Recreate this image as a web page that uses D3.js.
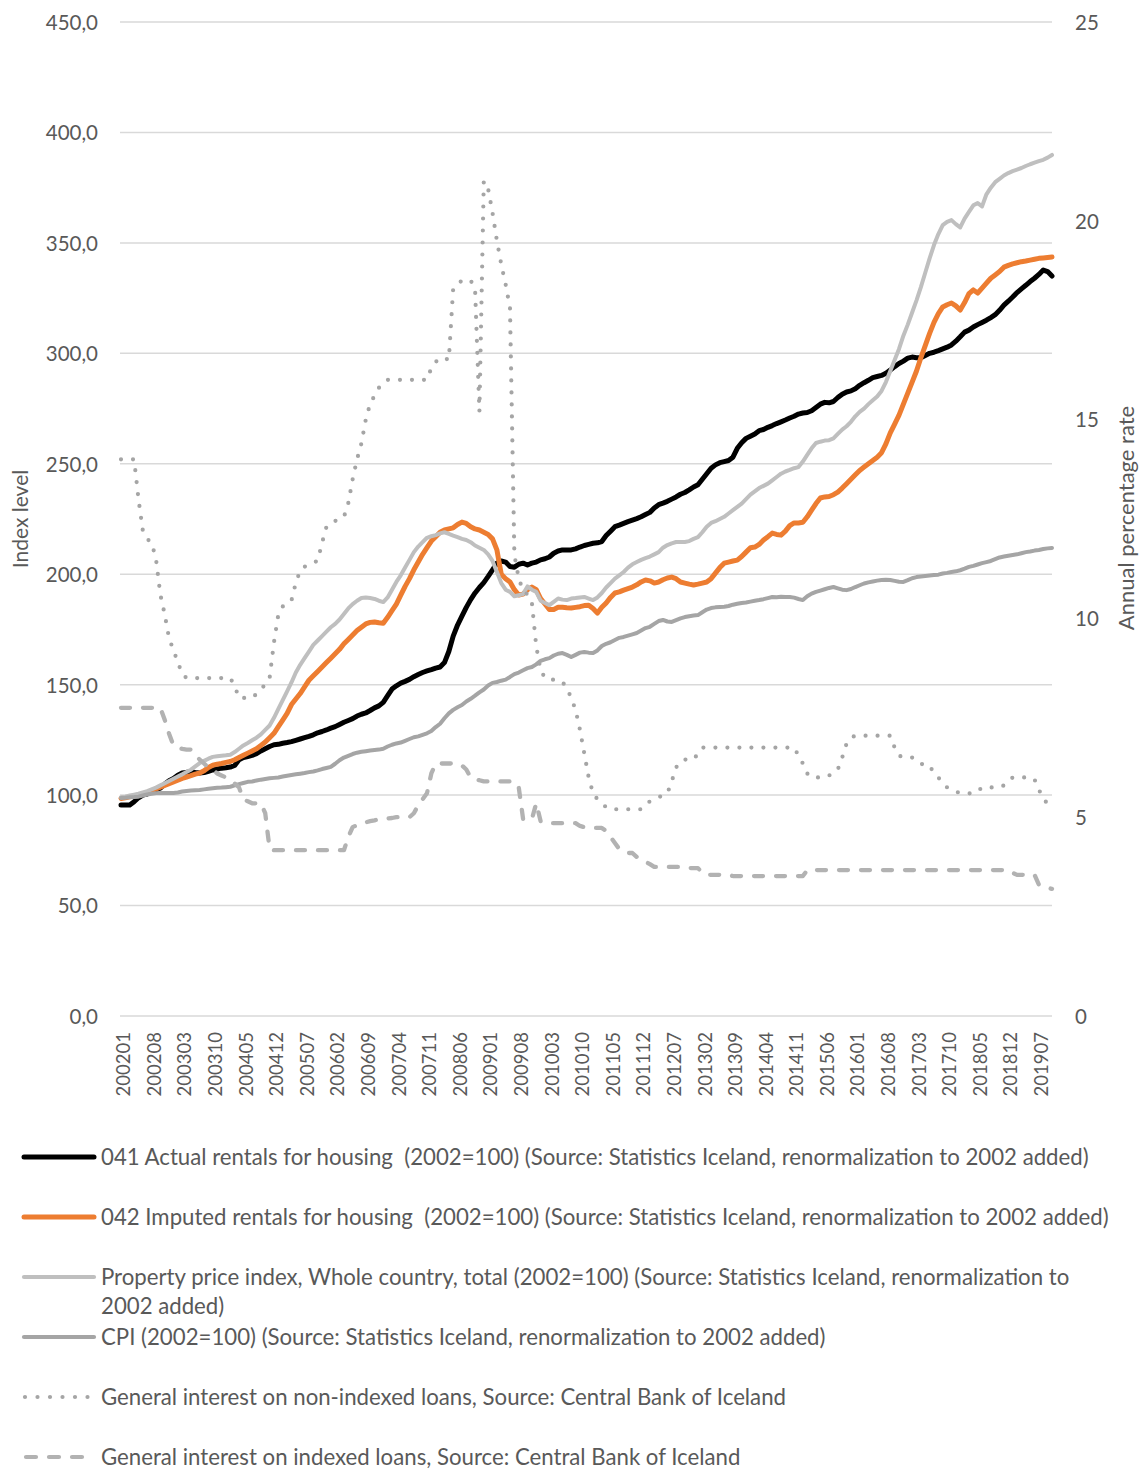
<!DOCTYPE html>
<html><head><meta charset="utf-8">
<script src="https://cdn.jsdelivr.net/npm/d3@7"></script>
<style>
body{margin:0;background:#fff}
text{font-family:Lato,'Open Sans',sans-serif;fill:#595959}
</style>
</head><body>
<svg id="c" width="1143" height="1472"></svg>
<script>
const months = [
"200201","200202","200203","200204","200205","200206","200207","200208","200209","200210","200211","200212",
"200301","200302","200303","200304","200305","200306","200307","200308","200309","200310","200311","200312",
"200401","200402","200403","200404","200405","200406","200407","200408","200409","200410","200411","200412",
"200501","200502","200503","200504","200505","200506","200507","200508","200509","200510","200511","200512",
"200601","200602","200603","200604","200605","200606","200607","200608","200609","200610","200611","200612",
"200701","200702","200703","200704","200705","200706","200707","200708","200709","200710","200711","200712",
"200801","200802","200803","200804","200805","200806","200807","200808","200809","200810","200811","200812",
"200901","200902","200903","200904","200905","200906","200907","200908","200909","200910","200911","200912",
"201001","201002","201003","201004","201005","201006","201007","201008","201009","201010","201011","201012",
"201101","201102","201103","201104","201105","201106","201107","201108","201109","201110","201111","201112",
"201201","201202","201203","201204","201205","201206","201207","201208","201209","201210","201211","201212",
"201301","201302","201303","201304","201305","201306","201307","201308","201309","201310","201311","201312",
"201401","201402","201403","201404","201405","201406","201407","201408","201409","201410","201411","201412",
"201501","201502","201503","201504","201505","201506","201507","201508","201509","201510","201511","201512",
"201601","201602","201603","201604","201605","201606","201607","201608","201609","201610","201611","201612",
"201701","201702","201703","201704","201705","201706","201707","201708","201709","201710","201711","201712",
"201801","201802","201803","201804","201805","201806","201807","201808","201809","201810","201811","201812",
"201901","201902","201903","201904","201905","201906","201907","201908","201909","201910"];

const xTickLabels = ["200201","200208","200303","200310","200405","200412","200507","200602","200609","200704",
"200711","200806","200901","200908","201003","201010","201105","201112","201207","201302",
"201309","201404","201411","201506","201601","201608","201703","201710","201805","201812","201907"];
const leftTicks = [0,50,100,150,200,250,300,350,400,450];
const rightTicks = [0,5,10,15,20,25];

const actualRent = [
95.5,95.5,95.5,97.0,98.8,100.0,100.5,101.8,102.5,103.2,
105.0,106.5,107.5,109.0,110.0,110.3,110.5,110.2,110.0,110.2,
110.8,111.4,111.8,112.2,112.4,112.7,113.4,116.0,117.0,117.5,
118.0,118.8,120.0,121.0,122.0,122.8,123.0,123.5,123.8,124.2,
124.8,125.4,126.0,126.6,127.3,128.2,128.8,129.5,130.3,131.0,
132.0,133.0,133.8,134.6,135.8,136.6,137.2,138.3,139.5,140.4,
142.0,145.0,148.0,149.5,150.7,151.5,152.4,153.6,154.6,155.5,
156.2,156.8,157.5,158.0,160.0,165.0,172.0,177.0,181.0,185.0,
188.5,191.5,194.0,196.2,199.0,202.0,205.0,206.0,205.5,203.5,
203.2,204.5,205.0,204.2,205.0,205.5,206.5,207.0,207.8,209.5,
210.5,211.0,211.0,211.0,211.5,212.3,213.0,213.5,214.0,214.2,
214.8,217.5,219.5,221.5,222.2,223.0,223.8,224.5,225.2,226.0,
227.0,228.0,230.0,231.5,232.2,233.0,234.0,235.0,236.2,237.0,
238.2,239.5,240.5,243.0,245.5,248.0,249.5,250.5,251.0,251.5,
253.0,257.0,259.5,261.5,262.5,263.5,265.0,265.5,266.5,267.3,
268.2,269.0,269.8,270.7,271.5,272.5,273.0,273.2,274.0,275.5,
277.0,277.8,277.6,278.2,280.0,281.5,282.5,283.0,284.0,285.5,
286.7,287.8,289.0,289.5,290.0,291.0,292.4,294.0,295.4,296.5,
297.8,298.3,298.0,298.0,299.0,300.0,300.5,301.2,302.0,302.8,
303.8,305.5,307.5,309.6,310.5,311.9,313.0,314.0,315.0,316.2,
317.5,319.5,321.8,323.6,325.5,327.5,329.2,330.8,332.5,334.0,
335.7,337.7,337.0,335.0];

const imputedRent = [
98.5,98.8,99.2,99.6,100.0,100.6,101.3,102.0,102.8,103.6,
104.4,105.2,106.0,106.8,107.6,108.2,108.8,109.5,110.0,111.0,
112.5,113.5,114.0,114.3,114.8,115.2,116.0,117.0,118.0,119.0,
120.0,121.0,122.5,124.0,126.0,128.0,131.0,134.0,137.0,141.0,
143.5,146.0,149.0,152.0,154.0,156.0,158.0,160.0,162.0,164.0,
166.0,168.5,170.5,172.5,174.5,176.0,177.5,178.2,178.4,178.0,
177.8,180.5,183.5,186.5,190.5,194.5,198.0,202.0,205.5,209.0,
212.0,215.0,217.0,219.0,220.0,220.5,221.0,222.5,223.6,223.0,
221.5,220.5,220.0,219.0,218.0,216.0,211.0,200.0,198.0,196.5,
193.0,190.6,191.0,193.0,194.2,193.0,189.0,186.5,184.0,184.0,
185.0,185.0,184.8,184.7,185.0,185.3,185.8,186.0,184.5,182.4,
185.0,187.0,189.5,191.5,192.0,192.8,193.5,194.2,195.2,196.5,
197.4,197.0,196.0,196.5,197.5,198.3,198.7,198.0,196.5,196.0,
195.5,195.1,195.5,196.0,196.5,198.0,200.5,203.0,205.0,205.5,
206.0,206.4,208.0,210.0,212.0,212.3,213.5,215.5,217.0,218.6,
218.0,217.7,219.5,222.0,223.2,223.2,223.5,226.0,229.0,232.0,
234.5,235.0,235.2,236.0,237.2,239.0,241.0,243.0,245.0,247.0,
248.5,250.0,251.5,253.0,255.0,259.0,264.0,268.0,272.0,277.0,
282.0,287.0,292.0,298.0,303.5,309.0,314.0,318.0,321.0,322.0,
322.8,321.5,319.6,323.0,327.0,328.7,327.3,329.5,331.8,334.0,
335.5,337.0,339.0,339.8,340.5,341.0,341.5,341.8,342.2,342.6,
343.0,343.2,343.4,343.6];

const propertyPrice = [
99.0,99.3,99.8,100.2,100.6,101.2,101.8,102.6,103.4,104.4,
105.4,106.4,107.4,108.4,109.4,110.5,111.5,113.0,114.5,115.5,
116.5,117.3,117.6,117.8,118.0,118.3,119.5,121.0,122.5,123.6,
124.8,126.0,127.5,129.5,131.5,135.0,139.0,143.0,147.0,151.0,
155.5,159.0,162.0,165.0,168.0,170.0,172.0,174.0,176.0,177.5,
179.5,182.0,184.5,186.5,188.0,189.2,189.5,189.2,188.8,188.0,
187.4,189.5,193.0,196.5,199.5,203.0,206.5,210.0,212.5,214.5,
216.5,217.2,217.7,218.5,219.0,218.3,217.5,216.8,216.0,215.5,
214.5,213.0,212.0,211.0,209.0,206.0,201.0,196.0,193.0,192.0,
190.0,190.5,191.0,194.5,193.0,192.0,188.0,187.0,186.0,187.5,
189.0,188.5,188.3,189.0,189.2,189.5,189.7,189.0,188.3,189.5,
191.5,194.0,196.0,198.0,199.5,201.0,203.0,204.5,205.5,206.5,
207.3,208.0,209.0,210.0,212.0,213.2,214.0,214.6,214.6,214.6,
215.0,216.0,216.8,219.0,221.5,223.2,224.0,225.0,226.0,227.5,
229.0,230.5,232.0,234.0,236.0,237.5,239.0,240.0,241.0,242.5,
244.0,245.5,246.5,247.2,248.0,248.5,251.0,254.0,257.0,259.4,
260.0,260.5,260.7,261.5,263.5,265.5,267.0,269.0,271.5,273.5,
275.0,277.0,278.8,280.5,283.0,287.0,292.0,297.0,302.0,308.0,
313.0,318.5,324.0,330.0,336.5,343.0,349.0,354.0,358.0,359.5,
360.3,358.5,357.0,361.0,364.0,367.0,368.0,366.5,372.0,375.0,
377.5,379.0,380.5,381.6,382.5,383.2,383.9,384.8,385.6,386.3,
387.0,387.6,388.6,389.8];

const cpi = [
98.7,98.8,99.0,99.1,99.3,99.8,100.3,100.6,100.9,101.0,
101.0,101.0,101.0,101.2,101.6,101.9,102.1,102.2,102.3,102.6,
102.9,103.1,103.3,103.4,103.6,103.8,104.4,105.0,105.5,106.0,
106.2,106.6,107.0,107.3,107.6,107.8,108.0,108.4,108.8,109.1,
109.4,109.7,110.0,110.4,110.7,111.2,111.8,112.3,112.8,114.2,
115.8,117.0,117.8,118.6,119.2,119.6,119.9,120.2,120.4,120.6,
121.0,122.0,122.8,123.4,123.8,124.6,125.4,126.2,126.6,127.3,
128.0,129.0,130.8,132.3,134.8,137.0,138.6,139.8,140.8,142.4,
143.6,145.0,146.5,147.8,149.6,150.8,151.2,151.8,152.3,153.5,
154.8,155.5,156.5,157.5,158.0,159.2,160.8,161.5,162.0,163.2,
164.0,164.3,163.5,162.5,163.5,164.5,164.8,164.5,164.3,165.5,
167.5,168.5,169.2,170.2,171.2,171.6,172.2,172.8,173.4,174.5,
175.6,176.2,177.5,178.8,179.3,178.6,178.4,179.2,180.0,180.6,
181.0,181.3,181.5,182.8,184.0,184.7,185.0,185.2,185.3,185.6,
186.2,186.6,187.0,187.2,187.6,188.0,188.3,188.7,189.2,189.7,
189.6,189.8,189.7,189.7,189.4,188.8,188.3,190.0,191.2,192.0,
192.6,193.2,193.8,194.2,193.6,193.0,192.8,193.3,194.2,195.0,
195.8,196.3,196.7,197.1,197.4,197.5,197.4,197.0,196.6,196.5,
197.3,198.2,198.7,199.0,199.2,199.4,199.6,199.8,200.3,200.6,
201.0,201.3,201.8,202.5,203.3,203.8,204.4,205.0,205.5,206.0,
206.8,207.6,208.0,208.4,208.7,209.0,209.5,210.0,210.3,210.7,
211.0,211.4,211.7,211.9];

const rateNonIndexed = [
14.0,14.0,14.0,14.0,13.0,12.2,12.0,11.9,11.5,10.6,
10.1,9.5,9.2,8.9,8.6,8.5,8.5,8.5,8.5,8.5,
8.5,8.5,8.5,8.5,8.5,8.5,8.3,8.0,8.0,8.0,
8.0,8.1,8.2,8.35,8.5,9.4,10.1,10.3,10.4,10.45,
10.9,11.2,11.3,11.35,11.4,11.45,11.9,12.3,12.4,12.45,
12.5,12.55,12.9,13.5,14.0,14.4,15.0,15.4,15.6,15.8,
15.9,16.0,16.0,16.0,16.0,16.0,16.0,16.0,16.0,16.0,
16.0,16.3,16.45,16.55,16.55,16.5,18.3,18.4,18.5,18.5,
18.5,18.3,15.2,21.0,20.8,20.2,19.5,18.9,18.4,17.8,
11.6,11.0,10.7,10.6,10.4,9.3,8.7,8.5,8.5,8.45,
8.4,8.4,8.25,8.0,7.7,7.2,6.6,6.0,5.6,5.45,
5.35,5.25,5.2,5.2,5.2,5.2,5.2,5.2,5.2,5.2,
5.3,5.4,5.45,5.5,5.55,5.6,5.9,6.25,6.4,6.45,
6.45,6.45,6.6,6.75,6.75,6.75,6.75,6.75,6.75,6.75,
6.75,6.75,6.75,6.75,6.75,6.75,6.75,6.75,6.75,6.75,
6.75,6.75,6.75,6.75,6.75,6.55,6.35,6.1,6.0,6.0,
6.0,6.05,6.05,6.1,6.2,6.5,6.85,7.0,7.05,7.05,
7.05,7.05,7.05,7.05,7.05,7.05,7.05,6.75,6.55,6.5,
6.5,6.5,6.4,6.35,6.3,6.3,6.1,6.0,5.85,5.75,
5.7,5.65,5.6,5.6,5.6,5.6,5.65,5.75,5.75,5.75,
5.75,5.75,5.8,5.9,6.0,6.0,6.0,6.0,6.0,5.95,
5.7,5.45,5.35,5.3];

const rateIndexed = [
7.75,7.75,7.75,7.75,7.75,7.75,7.75,7.75,7.75,7.75,
7.45,7.1,6.8,6.75,6.72,6.7,6.7,6.55,6.45,6.35,
6.25,6.2,6.1,6.05,6.0,5.95,5.85,5.75,5.45,5.4,
5.35,5.35,5.35,5.1,4.2,4.17,4.17,4.17,4.17,4.17,
4.17,4.17,4.17,4.17,4.17,4.17,4.17,4.17,4.17,4.17,
4.17,4.17,4.5,4.75,4.8,4.85,4.87,4.9,4.92,4.95,
4.97,4.97,4.98,5.0,5.0,5.0,5.0,5.1,5.3,5.45,
5.6,6.1,6.35,6.35,6.35,6.35,6.35,6.35,6.3,6.2,
6.0,5.95,5.93,5.9,5.9,5.9,5.9,5.9,5.9,5.9,
5.9,5.75,4.95,4.95,4.95,5.35,4.9,4.85,4.85,4.85,
4.85,4.85,4.85,4.85,4.85,4.78,4.75,4.73,4.73,4.73,
4.73,4.65,4.5,4.35,4.2,4.15,4.1,4.1,4.0,3.95,
3.88,3.82,3.75,3.75,3.75,3.75,3.75,3.75,3.75,3.75,
3.72,3.72,3.72,3.6,3.55,3.55,3.55,3.55,3.55,3.55,
3.52,3.52,3.52,3.52,3.52,3.52,3.52,3.52,3.52,3.52,
3.52,3.52,3.52,3.52,3.52,3.52,3.52,3.67,3.67,3.67,
3.67,3.67,3.67,3.67,3.67,3.67,3.67,3.67,3.67,3.67,
3.67,3.67,3.67,3.67,3.67,3.67,3.67,3.67,3.67,3.67,
3.67,3.67,3.67,3.67,3.67,3.67,3.67,3.67,3.67,3.67,
3.67,3.67,3.67,3.67,3.67,3.67,3.67,3.67,3.67,3.67,
3.67,3.67,3.67,3.67,3.6,3.55,3.55,3.55,3.55,3.55,
3.3,3.25,3.22,3.2];

const legendLabels = [
  ["041 Actual rentals for housing  (2002=100) (Source: Statistics Iceland, renormalization to 2002 added)"],
  ["042 Imputed rentals for housing  (2002=100) (Source: Statistics Iceland, renormalization to 2002 added)"],
  ["Property price index, Whole country, total (2002=100) (Source: Statistics Iceland, renormalization to", "2002 added)"],
  ["CPI (2002=100) (Source: Statistics Iceland, renormalization to 2002 added)"],
  ["General interest on non-indexed loans, Source: Central Bank of Iceland"],
  ["General interest on indexed loans, Source: Central Bank of Iceland"]
];
const leftTitle = "Index level";
const rightTitle = "Annual percentage rate";

// ---------- drawing ----------
const svg = d3.select("#c");
const X0 = 121, X1 = 1052, Y0 = 1016, Y1 = 22;
const x = d3.scalePoint().domain(months).range([X0, X1]);
const yL = d3.scaleLinear().domain([0, 450]).range([Y0, Y1]);
const yR = d3.scaleLinear().domain([0, 25]).range([Y0, Y1]);

const styles = [
  {data: actualRent, axis: "L", color: "#000000", width: 5},
  {data: imputedRent, axis: "L", color: "#ED7D31", width: 5},
  {data: propertyPrice, axis: "L", color: "#BFBFBF", width: 4},
  {data: cpi, axis: "L", color: "#A5A5A5", width: 4},
  {data: rateNonIndexed, axis: "R", color: "#A5A5A5", width: 4.2, dash: "0 12"},
  {data: rateIndexed, axis: "R", color: "#B2B2B2", width: 4.3, dash: "9 13"}
];

// gridlines
svg.append("g").selectAll("line").data(leftTicks).join("line")
  .attr("x1", X0 - 1).attr("x2", X1).attr("y1", d => yL(d)).attr("y2", d => yL(d))
  .attr("stroke", "#D9D9D9").attr("stroke-width", 1.5);

// left axis
const gL = svg.append("g").attr("transform", "translate(98,0)")
  .call(d3.axisLeft(yL).tickValues(leftTicks).tickSize(0).tickPadding(0)
    .tickFormat(d => d.toFixed(1).replace(".", ",")));
gL.select(".domain").remove();
gL.attr("font-family", null).attr("font-size", null);
gL.selectAll("text").attr("font-size", 20.5).attr("fill", "#595959").attr("dy", "0.36em");

// right axis
const gR = svg.append("g").attr("transform", "translate(1075,0)")
  .call(d3.axisRight(yR).tickValues(rightTicks).tickSize(0).tickPadding(0));
gR.select(".domain").remove();
gR.attr("font-family", null).attr("font-size", null);
gR.selectAll("text").attr("font-size", 20.5).attr("fill", "#595959").attr("dy", "0.36em");

// x axis
const gX = svg.append("g").attr("transform", `translate(0,${Y0})`)
  .call(d3.axisBottom(x).tickValues(xTickLabels).tickSize(0).tickPadding(0));
gX.select(".domain").remove();
gX.attr("font-family", null).attr("font-size", null);
gX.selectAll("text").attr("font-size", 18.5).attr("fill", "#595959")
  .attr("transform", "rotate(-90)").attr("text-anchor", "end")
  .attr("x", -16).attr("y", 2).attr("dy", "0.36em");

// axis titles
svg.append("text").attr("transform", "translate(20,519) rotate(-90)")
  .attr("text-anchor", "middle").attr("dy", "0.36em").attr("font-size", 21).text(leftTitle);
svg.append("text").attr("transform", "translate(1126,518) rotate(-90)")
  .attr("text-anchor", "middle").attr("dy", "0.36em").attr("font-size", 22).text(rightTitle);

// series
styles.forEach(s => {
  const ys = s.axis === "L" ? yL : yR;
  const line = d3.line().x((d, i) => x(months[i])).y(d => ys(d));
  const p = svg.append("path").datum(s.data).attr("d", line)
    .attr("fill", "none").attr("stroke", s.color).attr("stroke-width", s.width)
    .attr("stroke-linejoin", "round").attr("stroke-linecap", "round");
  if (s.dash) p.attr("stroke-dasharray", s.dash);
});

// legend
const lg = svg.append("g");
const probe = lg.append("text").attr("font-size", 20).style("white-space", "pre").text(legendLabels[0][0]);
const fs = 20 * 988 / probe.node().getComputedTextLength();
probe.remove();
const rowY = [1157, 1217, 1277, 1337, 1397, 1457];
legendLabels.forEach((lines, k) => {
  const s = styles[k];
  const y = rowY[k];
  const ln = lg.append("line").attr("x1", 24).attr("x2", 94).attr("y1", y).attr("y2", y)
    .attr("stroke", s.color).attr("stroke-width", k < 2 ? 5 : 4.2).attr("stroke-linecap", "round");
  if (s.dash) ln.attr("stroke-dasharray", k === 4 ? "0 12.5" : "10 13").attr("x1", k === 4 ? 25 : 26).attr("x2", 92);
  lines.forEach((t, j) => {
    lg.append("text").attr("x", 101).attr("y", y + j * 29).attr("dy", "0.36em")
      .attr("font-size", fs).style("white-space", "pre").text(t);
  });
});
</script>
</body></html>
